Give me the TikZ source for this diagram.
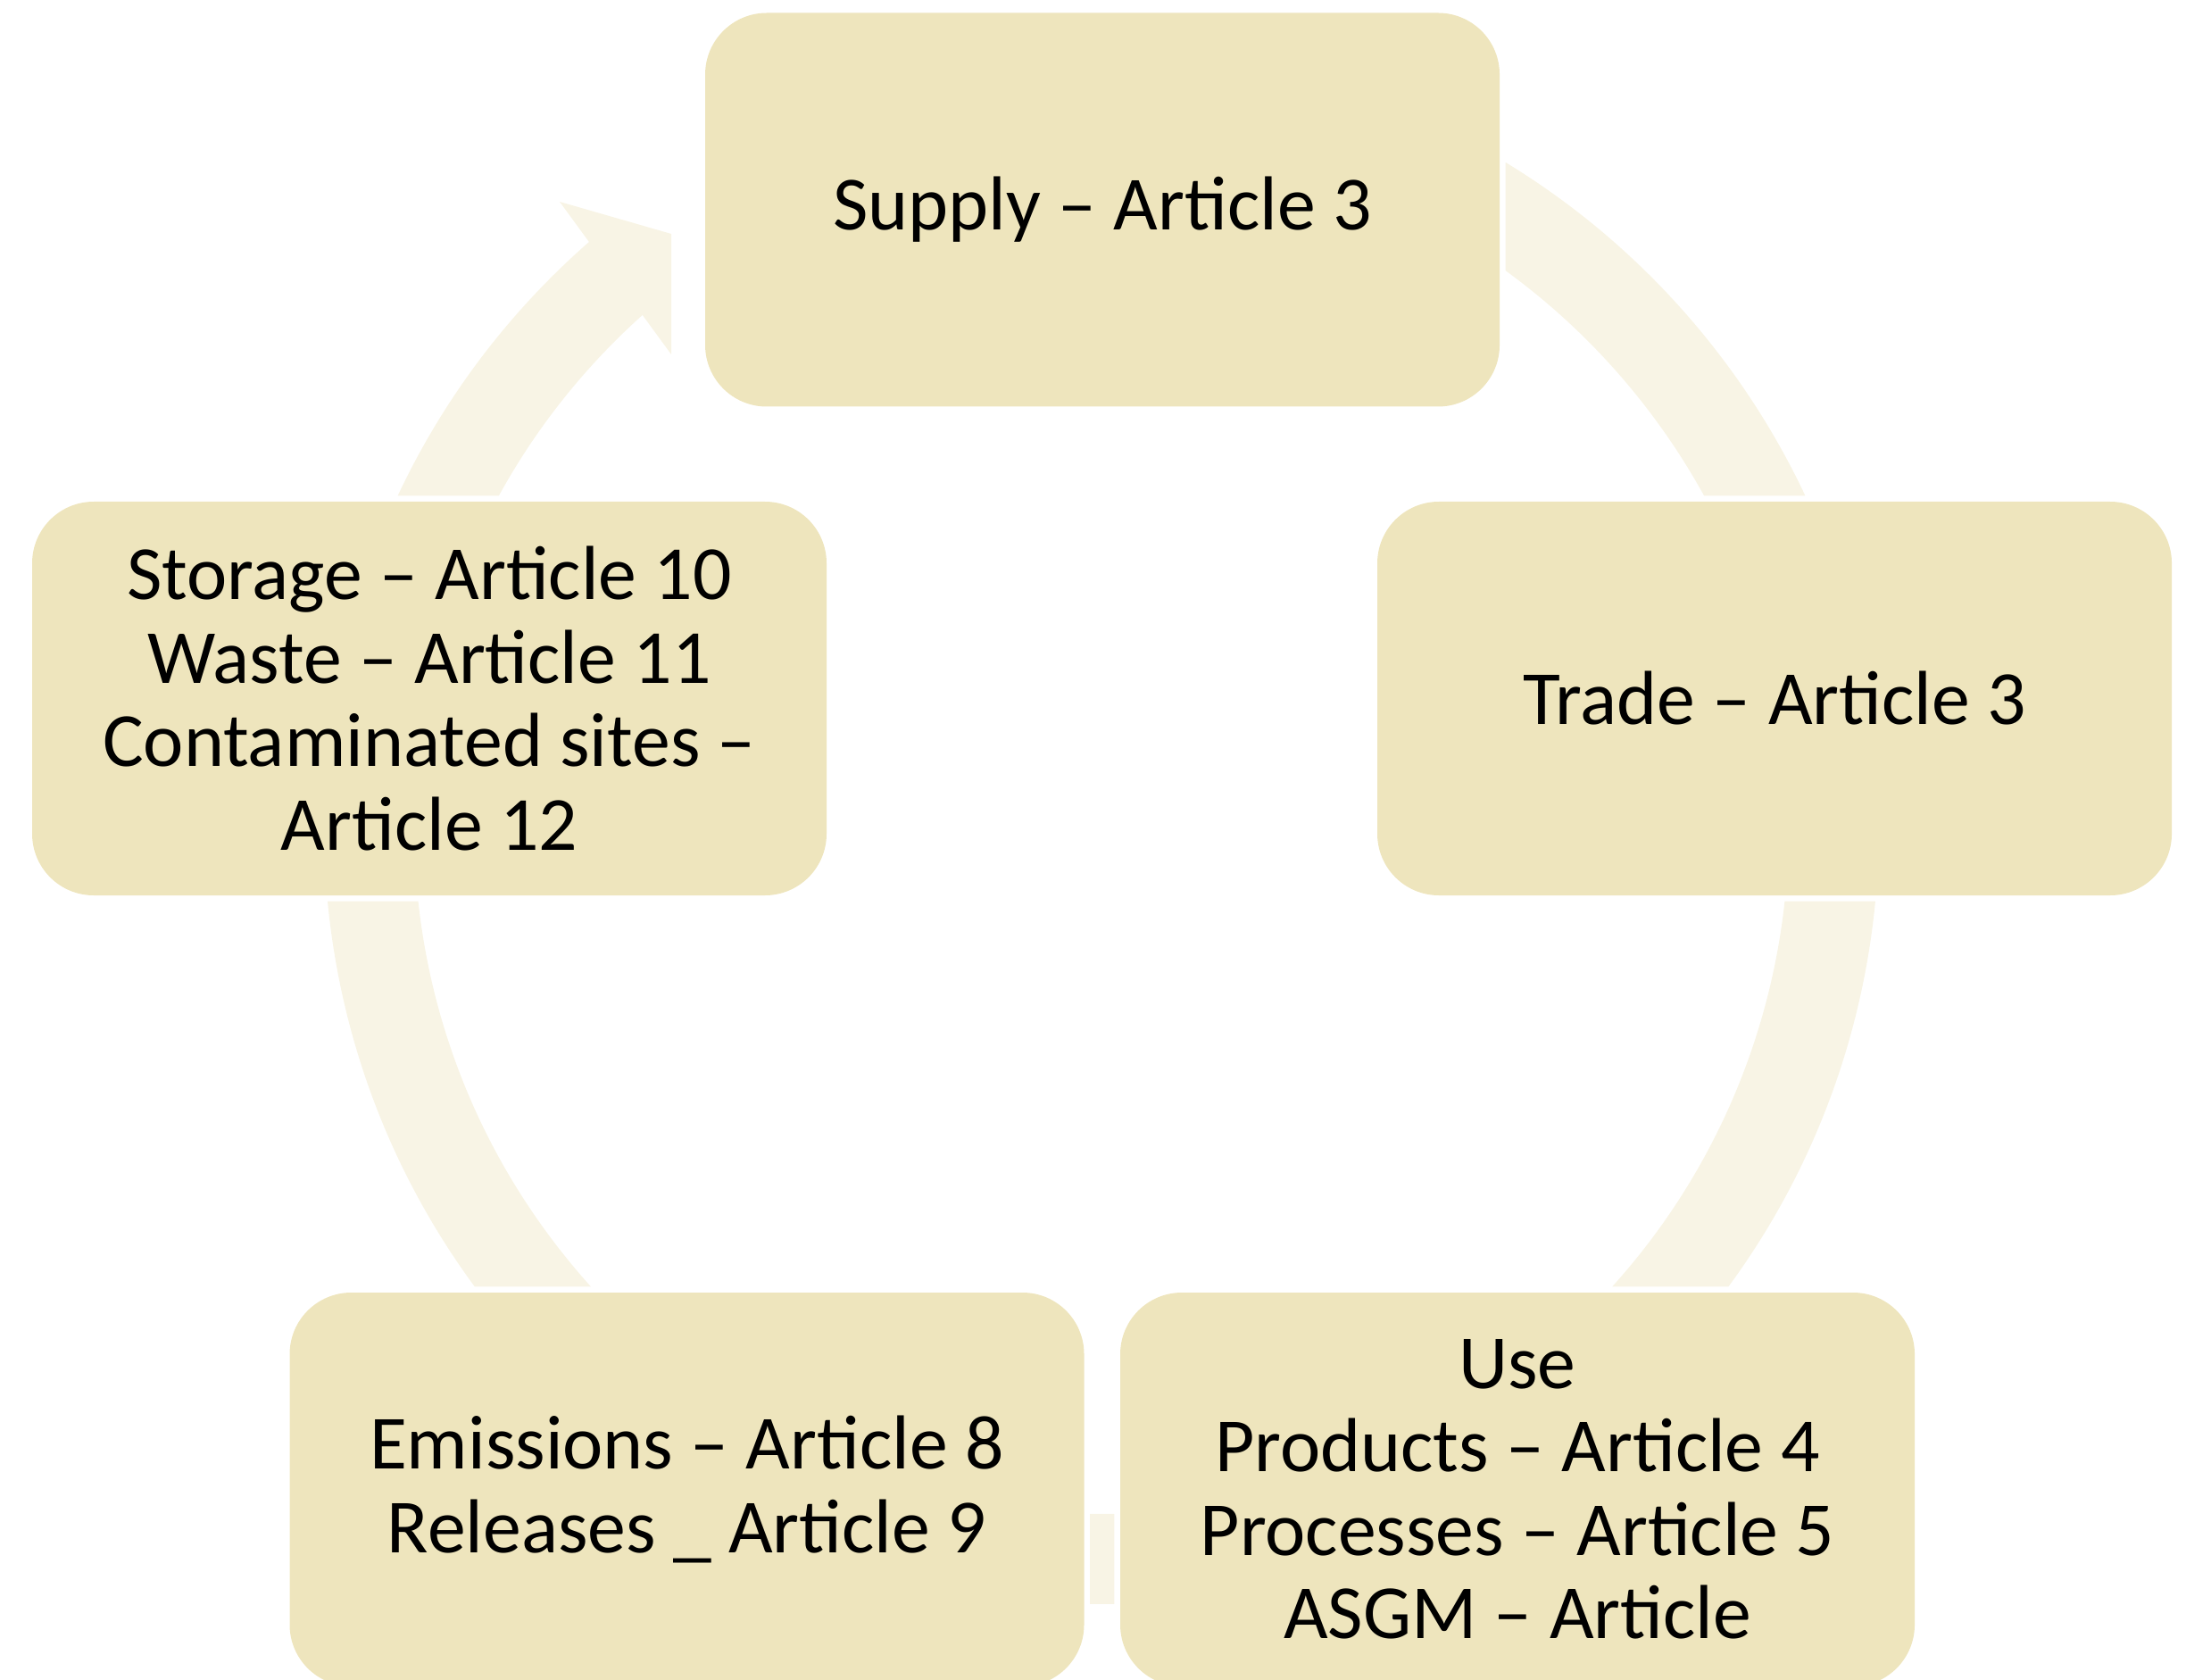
\documentclass[tikz,border=0pt]{standalone}
\usepackage{fontspec}
\setmainfont{Carlito}
\usetikzlibrary{calc}

\definecolor{boxtan}{RGB}{238,229,189}
\definecolor{ringtan}{RGB}{248,244,229}

\tikzset{
	tappa/.style={fill=boxtan, rounded corners=6.9mm, minimum width=8.9cm,
		minimum height=4.41cm, inner sep=0pt, align=center,
		font=\fontsize{24.4pt}{26.6pt}\selectfont},
	anello/.style={ringtan}
}
\newcommand{\margine}{0.6mm}

\begin{document}
\begin{tikzpicture}

	\useasboundingbox (0,0) rectangle (24.49,18.81);
	\coordinate (O) at (0,0);
	\coordinate (Q) at (24.49,18.81);
	\coordinate (C) at (12.34,9.55);

	% Le cinque tappe del ciclo
	\node[tappa] (supply) at (12.35,16.46) {Supply – Article 3};
	\node[tappa] (trade) at (19.88,10.985) {Trade – Article 3};
	\node[tappa] (use) at (17.00,2.125) {Use\\Products – Article 4\\Processes – Article 5\\ASGM – Article};
	\node[tappa] (emissions) at (7.695,2.125) {Emissions – Article 8\\Releases \_ Article 9};
	\node[tappa] (storage) at (4.81,10.985) {Storage – Article 10\\Waste – Article 11\\Contaminated sites –\\Article 12};

	% Bordi dei tratti di anello, poco fuori dalle tappe
	\coordinate (sw) at ([xshift=-\margine]supply.west);
	\coordinate (se) at ([xshift=\margine]supply.east);
	\coordinate (tn) at ([yshift=\margine]trade.north);
	\coordinate (ts) at ([yshift=-\margine]trade.south);
	\coordinate (stn) at ([yshift=\margine]storage.north);
	\coordinate (un) at ([yshift=\margine]use.north);
	\coordinate (uw) at ([xshift=-\margine]use.west);
	\coordinate (ee) at ([xshift=\margine]emissions.east);

	% Anello con la freccia verso Supply
	\begin{scope}
		\clip (O |- stn) rectangle (sw |- Q)
			(se |- tn) rectangle (Q)
			(C |- ts) rectangle (Q |- un)
			(ee |- O) rectangle (uw |- un)
			(O |- ts) rectangle (C |- un);
		\draw[anello, line width=10.1mm] ($(C)+(131.2:8.205)$)
			arc[start angle=131.2, end angle=450, radius=8.205];
		\fill[anello] (6.27,16.55) -- (7.52,16.19) -- (7.52,14.84) -- cycle;
	\end{scope}

\end{tikzpicture}
\end{document}
